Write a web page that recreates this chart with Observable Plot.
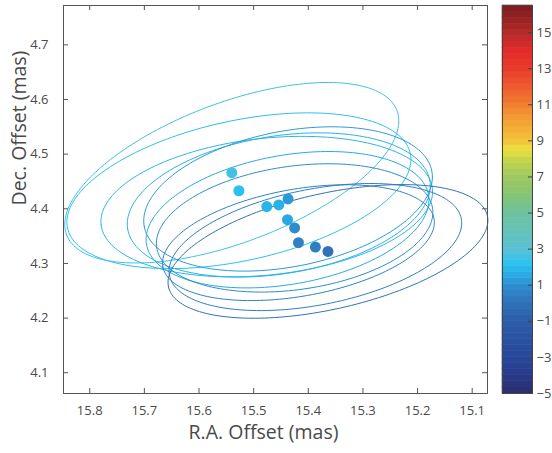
<!DOCTYPE html>
<html>
<head>
<meta charset="utf-8">
<script src="https://cdn.jsdelivr.net/npm/d3@7"></script>
<script src="https://cdn.jsdelivr.net/npm/@observablehq/plot@0.6"></script>
<style>
  body { margin: 0; background: #fff; }
  #chart { position: relative; width: 552px; height: 453px; font-family: "Open Sans", sans-serif; }
  #chart svg { position: absolute; top: 0; }
</style>
</head>
<body>
<div id="chart"></div>
<script>
// Astrometric positions (mas) for each epoch, with the colour variable
const raOffset  = [15.540, 15.527, 15.476, 15.454, 15.437, 15.438, 15.425, 15.418, 15.387, 15.364];
const decOffset = [4.466, 4.433, 4.404, 4.407, 4.418, 4.380, 4.365, 4.338, 4.330, 4.322];
const epochValue = [2.6, 2.1, 1.8, 1.7, 1.2, 1.5, 0.9, 0.5, 0.4, 0.0];

// Error ellipses: semi-axes (mas) and position angle of the major axis (deg, east of north)
const semiMajor = [0.323, 0.321, 0.305, 0.280, 0.268, 0.262, 0.255, 0.252, 0.272, 0.299];
const semiMinor = [0.128, 0.128, 0.125, 0.126, 0.124, 0.118, 0.113, 0.098, 0.106, 0.106];
const posAngle  = [110.6, 102.3, 96.2, 99, 101, 100, 98, 100, 101, 102.6];

// Axis ticks
const raTicks  = [15.1, 15.2, 15.3, 15.4, 15.5, 15.6, 15.7, 15.8];
const decTicks = [4.1, 4.2, 4.3, 4.4, 4.5, 4.6, 4.7];
const barTicks = [-5, -3, -1, 1, 3, 5, 7, 9, 11, 13, 15];

// Colormap
const cmapValues = [-5, -4, -3, -1, 0, 1, 1.7, 2.2, 3, 4, 5, 6, 7, 8, 8.5, 9, 10, 11, 12, 13, 14, 15, 16.5];
const cmapColors = ["#2b2e6a", "#2a3a8a", "#28479b", "#2d5ca8", "#2f72b8", "#2e8fd0", "#29b2e8", "#2cc3ee",
                    "#5bbfd5", "#64c3b8", "#6dc19e", "#86c474", "#a0c860", "#c8d648", "#ece23e", "#f3c23a",
                    "#f4a534", "#f17e30", "#ee5a2e", "#e93a2a", "#e22a28", "#b42a2a", "#7a1c1e"];
const cmin = -5, cmax = 16.5, nBands = 64;

const cmap = d3.scaleLinear(cmapValues, cmapColors).interpolate(d3.interpolateRgb);
const colorScale = {
  type: "linear",
  domain: [cmin, cmax],
  interpolate: t => cmap(cmin + t * (cmax - cmin))
};

// Build ellipse outlines from their parameters
const epochs = raOffset.map((ra, i) => ({
  id: i, ra, dec: decOffset[i], v: epochValue[i],
  a: semiMajor[i], b: semiMinor[i], pa: posAngle[i]
}));
const outline = epochs.flatMap(e => {
  const p = e.pa * Math.PI / 180;
  const ux = Math.sin(p), uy = Math.cos(p);   // major axis (east, north)
  const vx = Math.cos(p), vy = -Math.sin(p);  // minor axis
  return d3.range(0, 181).map(k => {
    const t = k / 180 * 2 * Math.PI;
    const c = Math.cos(t), s = Math.sin(t);
    return {
      id: e.id, v: e.v,
      ra: e.ra + e.a * c * ux + e.b * s * vx,
      dec: e.dec + e.a * c * uy + e.b * s * vy
    };
  });
});

const W = 495, H = 453;
const mL = 63, mR = 8, mT = 5, mB = 60;
const innerW = W - mL - mR, innerH = H - mT - mB;
const tickLen = 5;
const axisColor = "#555";
const textColor = "#4a4a4a";

const main = Plot.plot({
  width: W, height: H,
  marginLeft: mL, marginRight: mR, marginTop: mT, marginBottom: mB,
  style: { fontFamily: "Open Sans, sans-serif", background: "white" },
  x: { domain: [15.848, 15.072], axis: null },
  y: { domain: [4.062, 4.772], axis: null },
  color: colorScale,
  marks: [
    Plot.line(outline, { x: "ra", y: "dec", z: "id", stroke: "v", strokeWidth: 1, curve: "linear" }),
    Plot.dot(epochs, { x: "ra", y: "dec", r: 5.5, fill: "v", stroke: null }),
    Plot.frame({ stroke: axisColor }),
    Plot.tickX(raTicks, { x: d => d, insetTop: innerH - tickLen, stroke: axisColor }),
    Plot.tickX(raTicks, { x: d => d, insetBottom: innerH - tickLen, stroke: axisColor }),
    Plot.tickY(decTicks, { y: d => d, insetRight: innerW - tickLen, stroke: axisColor }),
    Plot.tickY(decTicks, { y: d => d, insetLeft: innerW - tickLen, stroke: axisColor }),
    Plot.axisX(raTicks, { anchor: "bottom", tickSize: 0, tickPadding: 12, fontSize: 13, fill: textColor, label: null, tickFormat: d3.format(".1f") }),
    Plot.axisY(decTicks, { anchor: "left", tickSize: 0, tickPadding: 15, fontSize: 13, fill: textColor, label: null, tickFormat: d3.format(".1f") }),
    Plot.text(["R.A. Offset (mas)"], { text: d => d, frameAnchor: "bottom", dx: -12, dy: 45, fontSize: 19.5, fill: textColor }),
    Plot.text(["Dec. Offset (mas)"], { text: d => d, frameAnchor: "left", dx: -44, dy: 6, rotate: -90, fontSize: 19.5, fill: textColor })
  ]
});

// Colour bar
const bands = d3.range(nBands).map(i => ({
  lo: cmin + i * (cmax - cmin) / nBands,
  hi: cmin + (i + 1) * (cmax - cmin) / nBands
}));
const barW = 57, barL = 7, barR = 20;
const bar = Plot.plot({
  width: barW, height: H,
  marginLeft: barL, marginRight: barR, marginTop: mT, marginBottom: mB,
  style: { fontFamily: "Open Sans, sans-serif", background: "transparent" },
  y: { domain: [cmin, cmax], axis: null },
  color: colorScale,
  marks: [
    Plot.rect(bands, { y1: "lo", y2: "hi", fill: d => (d.lo + d.hi) / 2, stroke: d => (d.lo + d.hi) / 2, strokeWidth: 0.6 }),
    Plot.frame({ stroke: "#444" }),
    Plot.tickY(barTicks, { y: d => d, insetLeft: barW - barL - barR - 4, stroke: "#444" }),
    Plot.axisY(barTicks, { anchor: "right", tickSize: 0, tickPadding: 4, fontSize: 13, fill: textColor, label: null })
  ]
});

const chart = document.getElementById("chart");
main.style.left = "0px";
bar.style.left = W + "px";
chart.append(main, bar);
</script>
</body>
</html>
